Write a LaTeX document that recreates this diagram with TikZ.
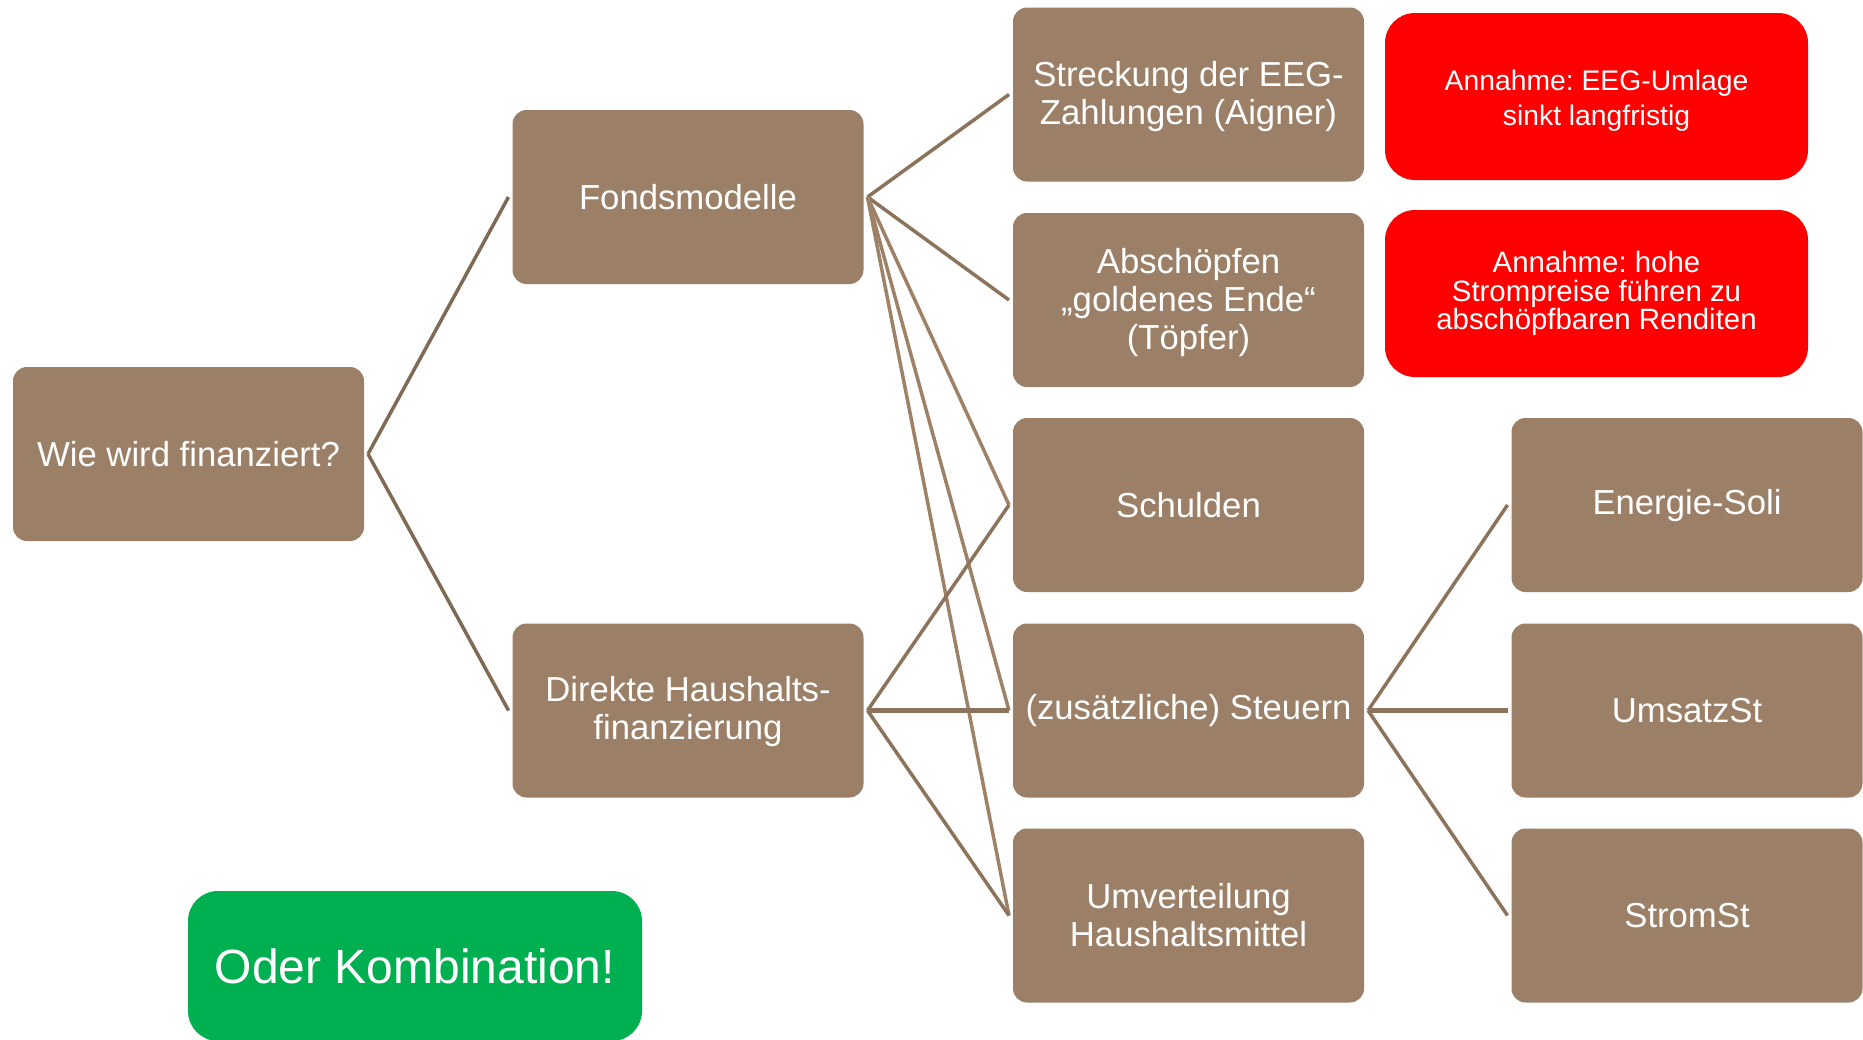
\documentclass[tikz,border=0pt]{standalone}
\usepackage{fontspec}
\setmainfont{Liberation Sans}
\frenchspacing
\definecolor{boxbrown}{HTML}{9B7F66}
\definecolor{linedark}{HTML}{7F6A55}
\definecolor{linemid}{HTML}{8C735C}
\definecolor{linelight}{HTML}{9E8268}
\definecolor{notered}{HTML}{FF0000}
\definecolor{notegreen}{HTML}{00B050}
\newcommand{\lowerstack}[2]{\raisebox{#1}[\height][\depth]{\begin{tabular}{@{}c@{}}#2\end{tabular}}}
\begin{document}
\begin{tikzpicture}[x=1pt,y=-1pt,
  bbox/.style={fill=boxbrown, rounded corners=14pt, minimum width=351pt, minimum height=174pt,
    inner sep=0pt, outer sep=4pt, text=white, align=center, font=\fontsize{34.7}{38}\selectfont},
  rbox/.style={fill=notered, rounded corners=30pt, minimum width=423pt, minimum height=167pt,
    inner sep=0pt, outer sep=0pt, text=white, align=center},
  gbox/.style={fill=notegreen, rounded corners=30pt, minimum width=454pt, minimum height=150pt,
    inner sep=0pt, text=white, align=center, font=\fontsize{48}{55}\selectfont},
  conn/.style={line width=3.5pt},
]
\useasboundingbox (0,0) rectangle (1863,1039);
% boxes
\node[bbox] (root) at (188.5,454) {Wie wird finanziert?};
\node[bbox] (fonds) at (688,197) {Fondsmodelle};
\node[bbox] (direkt) at (688,710.5) {\lowerstack{-2pt}{Direkte Haushalts-\\finanzierung}};
\node[bbox] (streck) at (1188.5,94.5) {\lowerstack{-3.5pt}{Streckung der EEG-\\Zahlungen (Aigner)}};
\node[bbox] (absch) at (1188.5,300) {\lowerstack{-3.5pt}{Abschöpfen\\„goldenes Ende“\\(Töpfer)}};
\node[bbox] (schuld) at (1188.5,505) {Schulden};
\node[bbox] (steuer) at (1188.5,710.5) {(zusätzliche) Steuern};
\node[bbox] (umv) at (1188.5,915.5) {Umverteilung\\Haushaltsmittel};
\node[bbox] (soli) at (1687,505) {\lowerstack{-2pt}{Energie-Soli}};
\node[bbox] (umsatz) at (1687,710.5) {UmsatzSt};
\node[bbox] (strom) at (1687,915.5) {StromSt};
\node[rbox, font=\fontsize{28.3}{35.6}\selectfont] (ann1) at (1596.5,96.5) {\lowerstack{-4.5pt}{Annahme: EEG-Umlage\\sinkt langfristig}};
\node[rbox, font=\fontsize{29.4}{28.5}\selectfont] (ann2) at (1596.5,293.5) {Annahme: hohe\\Strompreise führen zu\\abschöpfbaren Renditen};
\node[gbox] (komb) at (415,966) {Oder Kombination!};
% connectors
\draw[conn, linedark] (root.east) -- (fonds.west);
\draw[conn, linedark] (root.east) -- (direkt.west);
\draw[conn, linemid] (fonds.east) -- (streck.west);
\draw[conn, linemid] (fonds.east) -- (absch.west);
\draw[conn, linelight] (fonds.east) -- (schuld.west);
\draw[conn, linelight] (fonds.east) -- (steuer.west);
\draw[conn, linelight] (fonds.east) -- (umv.west);
\draw[conn, linemid] (direkt.east) -- (schuld.west);
\draw[conn, linemid, line width=5pt] (direkt.east) -- (steuer.west);
\draw[conn, linemid] (direkt.east) -- (umv.west);
\draw[conn, linemid] (steuer.east) -- (soli.west);
\draw[conn, linemid, line width=5pt] (steuer.east) -- (umsatz.west);
\draw[conn, linemid] (steuer.east) -- (strom.west);
\end{tikzpicture}
\end{document}
